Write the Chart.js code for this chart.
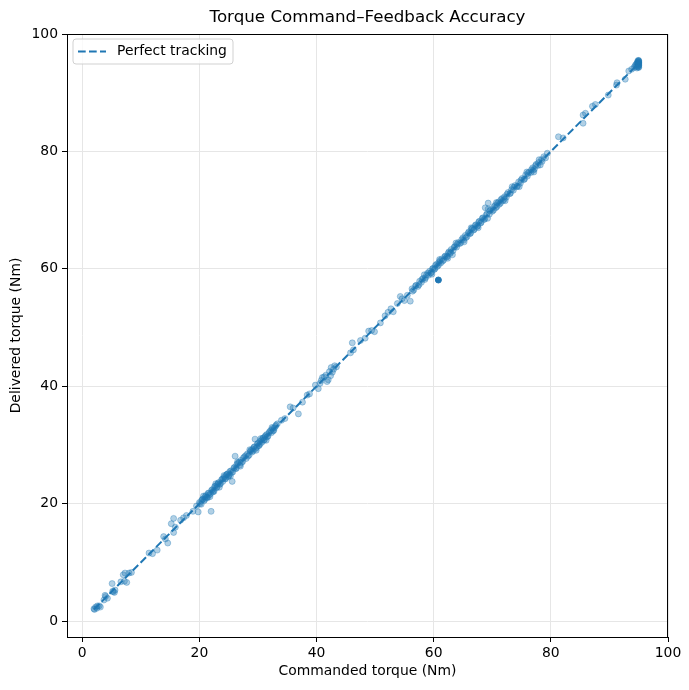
<!DOCTYPE html>
<html>
<head>
<meta charset="utf-8">
<script src="https://cdn.jsdelivr.net/npm/chart.js@4/dist/chart.umd.min.js"></script>
<style>
  html, body { margin: 0; padding: 0; background: #fff; }
  #wrap { width: 689px; height: 690px; }
</style>
</head>
<body>
<div id="wrap"><canvas id="graficoTorque" width="689" height="690"></canvas></div>
<script>

// commanded torque (Nm), one value per sample
const commanded = [
    2.0, 2.1, 2.3, 2.5, 2.6, 2.9, 3.1, 3.7, 4.0, 4.3,
    3.9, 5.1, 5.2, 5.5, 5.6, 5.3, 6.6, 7.0, 7.3, 7.6,
    7.2, 8.0, 8.4, 11.4, 12.0, 12.8, 13.9, 14.6, 14.2, 15.2,
    15.6, 15.9, 15.6, 16.8, 17.3, 17.8, 18.9, 19.5, 19.8,
    // 20 - 33
    20.0, 20.3, 20.4, 20.6, 20.9, 21.1, 21.2, 21.4, 21.6, 21.9,
    22.0, 22.2, 22.3, 22.5, 22.7, 23.0, 23.1, 23.2, 23.5, 23.8,
    24.0, 24.3, 24.5, 24.6, 24.8, 25.0, 25.1, 25.4, 25.6, 25.7,
    26.0, 26.1, 26.3, 26.4, 26.6, 26.9, 27.1, 27.4, 27.5, 27.7,
    28.0, 28.2, 28.5, 28.8, 29.0, 29.1, 29.3, 29.5, 29.6, 29.9,
    30.1, 30.3, 30.4, 30.7, 30.9, 31.0, 31.2, 31.5, 31.7, 31.9,
    32.0, 32.3, 32.5, 32.6, 32.8, 33.0, 33.3,
    20.1, 20.5, 20.8, 21.0, 21.3, 21.5, 21.7, 22.1, 22.4, 22.6,
    22.9, 23.3, 23.6, 23.9, 24.1, 24.4, 24.7, 24.9, 25.2, 25.5,
    25.9, 26.2, 26.8, 27.2, 27.9, 28.3, 28.7, 29.2, 29.4, 29.8,
    30.0, 30.2, 30.6, 30.8, 31.1, 31.3, 31.6, 32.2, 32.7, 33.1,
    20.7, 21.8, 22.8, 23.4, 24.2, 25.3, 26.5, 27.0, 28.6, 29.7,
    30.5, 31.4, 32.4,
    // 33 - 56
    34.0, 34.6, 35.5, 36.0, 36.9, 37.6, 38.4, 38.8, 39.8, 40.3,
    40.6, 40.8, 41.3, 41.6, 41.8, 42.0, 42.2, 42.5, 42.7, 42.9,
    43.1, 43.4, 45.8, 46.1, 46.3, 47.5, 48.3, 48.9, 49.4, 49.9,
    50.9, 51.7, 52.2, 52.7, 53.1, 53.8, 54.3, 54.6, 55.0, 55.5,
    56.0, 41.0, 42.4,
    // 56 - 80
    56.3, 56.6, 57.0, 57.3, 57.6, 57.9, 58.2, 58.5, 58.8, 59.1,
    59.3, 59.6, 59.9, 60.1, 60.3, 60.6, 60.9, 61.2, 61.4, 61.7,
    62.0, 62.2, 62.5, 62.8, 63.0, 63.2, 63.3, 63.6, 64.0, 64.4,
    64.8, 65.1, 65.4, 65.7, 66.0, 66.3, 66.6, 66.9, 67.2, 67.5,
    67.8, 68.1, 68.4, 68.7, 68.8, 69.0, 69.3, 69.3, 69.6, 70.0,
    70.3, 70.6, 70.9, 71.2, 71.5, 71.8, 72.1, 72.4, 72.7, 73.0,
    73.3, 73.6, 73.9, 74.2, 74.5, 74.8, 75.1, 75.4, 75.7, 76.0,
    76.3, 76.6, 76.9, 77.2, 77.5, 77.8, 78.2, 78.4, 78.8, 79.1,
    79.4,
    56.4, 56.9, 57.5, 58.0, 58.6, 59.0, 59.5, 59.8, 60.2, 60.5,
    60.8, 61.1, 61.5, 61.9, 62.3, 62.6, 62.9, 63.5, 63.9, 64.2,
    64.6, 65.0, 65.5, 65.9, 66.2, 66.5, 66.8, 67.1, 67.4, 67.7,
    68.0, 68.3, 68.6, 69.1, 69.5, 69.8, 70.2, 70.5, 70.8, 71.1,
    71.4, 71.7, 72.0, 72.5, 73.1, 73.7, 74.3, 74.9, 75.5, 76.1,
    76.7, 77.0, 77.4, 77.9, 78.5,
    58.4, 59.7, 61.0, 62.4, 63.8, 65.2, 66.4, 67.6, 69.2, 70.7,
    72.2, 73.4, 74.6, 75.9, 77.1, 78.0,
    // 80 - 95
    81.3, 82.1, 85.5, 85.5, 85.9, 87.1, 87.6, 89.8, 91.2, 91.3,
    92.7, 93.3, 93.8, 94.2, 94.5, 94.8, 95.0, 95.0, 94.9, 95.0,
    94.7, 95.0, 95.0, 94.9, 95.0, 94.6, 95.0,
    94.4, 94.8, 95.0, 95.0, 94.9, 95.0, 94.7, 95.0, 94.8, 95.0
];

// delivered torque (Nm), same order as commanded
const delivered = [
    2.1, 2.0, 2.4, 2.2, 2.6, 2.6, 2.4, 3.6, 4.2, 3.9,
    4.4, 6.4, 5.1, 4.9, 5.3, 5.0, 6.7, 7.9, 8.2, 6.6,
    6.8, 8.2, 8.3, 11.6, 11.5, 12.1, 14.4, 13.3, 14.0, 16.6,
    15.1, 16.0, 17.5, 17.2, 17.6, 18.0, 18.7, 19.6, 18.6,
    // 20 - 33
    20.2, 19.9, 20.6, 20.8, 20.7, 21.4, 21.1, 21.0, 21.8, 21.7,
    18.7, 22.4, 22.0, 22.1, 23.0, 22.8, 23.3, 23.5, 23.3, 24.1,
    23.8, 24.6, 24.3, 24.9, 25.1, 24.7, 24.9, 25.6, 23.8, 25.4,
    26.2, 28.1, 26.0, 26.7, 26.9, 26.6, 27.4, 27.2, 27.8, 28.0,
    27.7, 28.5, 28.3, 29.1, 28.8, 29.3, 29.6, 31.0, 29.4, 30.2,
    29.9, 30.6, 30.2, 30.5, 31.2, 30.8, 31.4, 31.8, 31.5, 32.1,
    32.3, 32.1, 32.8, 32.4, 32.9, 33.2, 33.6,
    20.0, 20.7, 20.5, 21.2, 21.1, 21.8, 21.5, 22.3, 22.2, 22.9,
    22.7, 23.6, 23.4, 24.2, 24.3, 24.2, 25.0, 24.6, 25.5, 25.3,
    26.1, 26.0, 27.1, 27.0, 28.2, 28.1, 28.9, 29.0, 29.7, 29.6,
    30.3, 29.9, 30.8, 31.1, 30.9, 31.6, 31.4, 32.5, 32.5, 33.4,
    21.3, 21.2, 23.4, 22.8, 24.8, 24.7, 27.1, 26.4, 29.2, 29.1,
    31.1, 30.8, 33.0,
    // 33 - 56
    34.2, 34.5, 36.5, 36.3, 35.3, 37.3, 38.5, 38.7, 40.2, 39.6,
    40.5, 41.0, 41.6, 41.9, 40.8, 41.1, 42.5, 43.2, 42.4, 42.9,
    43.5, 43.3, 45.7, 47.4, 46.2, 47.8, 48.2, 49.4, 49.5, 49.3,
    50.8, 52.0, 52.6, 53.2, 52.7, 54.1, 55.3, 54.9, 54.6, 55.5,
    54.5, 41.5, 41.8,
    // 56 - 80
    56.6, 56.4, 57.2, 57.0, 57.9, 57.7, 58.4, 58.2, 59.0, 58.9,
    59.6, 59.4, 60.1, 59.9, 60.6, 60.4, 61.1, 61.0, 61.7, 61.5,
    62.2, 62.0, 62.7, 62.6, 63.3, 62.4, 63.1, 63.8, 64.2, 64.3,
    65.0, 64.9, 65.7, 65.5, 66.3, 66.1, 66.9, 66.7, 67.5, 67.3,
    68.1, 67.9, 68.7, 68.5, 70.4, 69.2, 71.2, 70.2, 69.9, 69.8,
    70.6, 70.4, 71.2, 71.0, 71.8, 71.6, 72.3, 72.2, 73.0, 72.8,
    73.5, 73.4, 74.2, 74.0, 74.8, 74.6, 75.4, 75.2, 76.0, 75.8,
    76.5, 76.4, 77.2, 77.0, 77.8, 77.6, 77.7, 78.6, 79.1, 78.9,
    79.7,
    56.2, 57.1, 57.3, 58.2, 58.5, 59.3, 59.3, 60.0, 60.0, 60.8,
    60.6, 61.4, 61.3, 62.1, 62.1, 62.9, 62.8, 63.7, 63.7, 64.5,
    64.4, 65.3, 65.3, 66.1, 66.0, 66.8, 66.6, 67.4, 67.2, 68.0,
    67.8, 68.6, 68.4, 69.4, 69.3, 70.1, 70.0, 70.8, 70.6, 71.4,
    71.2, 72.0, 71.8, 72.7, 72.9, 73.9, 74.1, 75.1, 75.3, 76.3,
    76.9, 76.8, 77.6, 78.1, 78.3,
    59.0, 59.1, 61.6, 61.8, 64.4, 64.6, 67.0, 67.0, 68.6, 71.3,
    71.6, 74.0, 74.0, 76.5, 76.5, 78.6,
    // 80 - 95
    82.5, 82.3, 86.2, 84.8, 86.5, 87.7, 88.0, 89.6, 91.3, 91.7,
    92.3, 93.7, 94.0, 94.3, 94.8, 95.0, 95.3, 94.7, 95.5, 94.4,
    94.2, 95.0, 95.1, 94.6, 94.9, 94.5, 95.4,
    94.6, 94.4, 95.2, 94.8, 95.2, 94.6, 95.0, 95.5, 95.3, 94.3
];

// the one solid point below the line
const solidCmd = [60.8];
const solidDelivered = [58.1];

// ends of the perfect tracking line
const idealLine = [2, 95];

const xTicks = [0, 20, 40, 60, 80, 100];
const yTicks = [0, 20, 40, 60, 80, 100];

const titulo = 'Torque Command\u2013Feedback Accuracy';
const azul = '#1f77b4';
const fonte = 'DejaVu Sans';

let pontos = commanded.map((c, i) => ({ x: c, y: delivered[i] }));
let solidos = solidCmd.map((c, i) => ({ x: c, y: solidDelivered[i] }));
let linha = idealLine.map(v => ({ x: v, y: v }));

// title, frame round the plot and the legend box inside it
const molduraLegenda = {
    id: 'molduraLegenda',
    afterDraw(chart) {
        const c = chart.ctx;
        const a = chart.chartArea;

        c.save();
        c.fillStyle = '#000';
        c.font = '16.7px "' + fonte + '"';
        c.textAlign = 'center';
        c.textBaseline = 'middle';
        c.fillText(titulo, (a.left + a.right) / 2, 18);

        c.strokeStyle = '#000';
        c.lineWidth = 1;
        c.strokeRect(Math.round(a.left) + 0.5, Math.round(a.top) + 0.5,
            Math.round(a.right - a.left) - 1, Math.round(a.bottom - a.top));

        // legend
        const bx = a.left + 6, by = a.top + 5, bw = 160, bh = 25, r = 3;
        c.beginPath();
        c.moveTo(bx + r, by);
        c.arcTo(bx + bw, by, bx + bw, by + bh, r);
        c.arcTo(bx + bw, by + bh, bx, by + bh, r);
        c.arcTo(bx, by + bh, bx, by, r);
        c.arcTo(bx, by, bx + bw, by, r);
        c.closePath();
        c.fillStyle = 'rgba(255,255,255,0.8)';
        c.fill();
        c.strokeStyle = 'rgba(204,204,204,0.9)';
        c.lineWidth = 1;
        c.stroke();

        c.beginPath();
        c.setLineDash([7.7, 3.3]);
        c.strokeStyle = azul;
        c.lineWidth = 2;
        c.moveTo(bx + 5, by + 12.5);
        c.lineTo(bx + 33, by + 12.5);
        c.stroke();
        c.setLineDash([]);

        c.fillStyle = '#000';
        c.font = '13.9px "' + fonte + '"';
        c.textAlign = 'left';
        c.textBaseline = 'middle';
        c.fillText('Perfect tracking', bx + 44, by + 12.5);
        c.restore();
    }
};

const ctx = document.getElementById('graficoTorque');

new Chart(ctx, {
    type: 'scatter',

    data: {
        datasets: [
            {
                label: 'Perfect tracking',
                data: linha,
                showLine: true,
                borderColor: azul,
                borderWidth: 2,
                borderDash: [7.7, 3.3],
                pointRadius: 0,
                order: 0
            },
            {
                label: 'solid',
                data: solidos,
                backgroundColor: azul,
                borderColor: azul,
                borderWidth: 1,
                pointRadius: 3,
                order: 1
            },
            {
                label: 'samples',
                data: pontos,
                backgroundColor: 'rgba(31,119,180,0.35)',
                borderColor: 'rgba(31,119,180,0.35)',
                borderWidth: 1,
                pointRadius: 3,
                order: 2
            }
        ]
    },

    options: {
        responsive: false,
        animation: false,
        devicePixelRatio: 1,
        layout: {
            padding: { left: 0, right: 21, top: 34, bottom: 0 }
        },
        plugins: {
            legend: { display: false },
            tooltip: { enabled: false },
            title: { display: false }
        },
        scales: {
            x: {
                type: 'linear',
                min: -2.6,
                max: 100,
                afterBuildTicks: s => { s.ticks = xTicks.map(v => ({ value: v })); },
                afterFit: s => { s.height = 53; },
                ticks: {
                    color: '#000',
                    font: { family: fonte, size: 13.9 },
                    padding: 3,
                    maxRotation: 0
                },
                grid: {
                    color: '#e6e6e6',
                    tickColor: '#000',
                    tickLength: 5
                },
                border: { display: false },
                title: {
                    display: true,
                    text: 'Commanded torque (Nm)',
                    color: '#000',
                    font: { family: fonte, size: 13.9 },
                    padding: { top: 0, bottom: 10 }
                }
            },
            y: {
                type: 'linear',
                min: -2.7,
                max: 100,
                afterBuildTicks: s => { s.ticks = yTicks.map(v => ({ value: v })); },
                afterFit: s => { s.width = 67; },
                ticks: {
                    color: '#000',
                    font: { family: fonte, size: 13.9 },
                    padding: 4
                },
                grid: {
                    color: '#e6e6e6',
                    tickColor: '#000',
                    tickLength: 5
                },
                border: { display: false },
                title: {
                    display: true,
                    text: 'Delivered torque (Nm)',
                    color: '#000',
                    font: { family: fonte, size: 13.9 },
                    padding: { top: 8, bottom: 0 }
                }
            }
        }
    },

    plugins: [molduraLegenda]
});

</script>
</body>
</html>
